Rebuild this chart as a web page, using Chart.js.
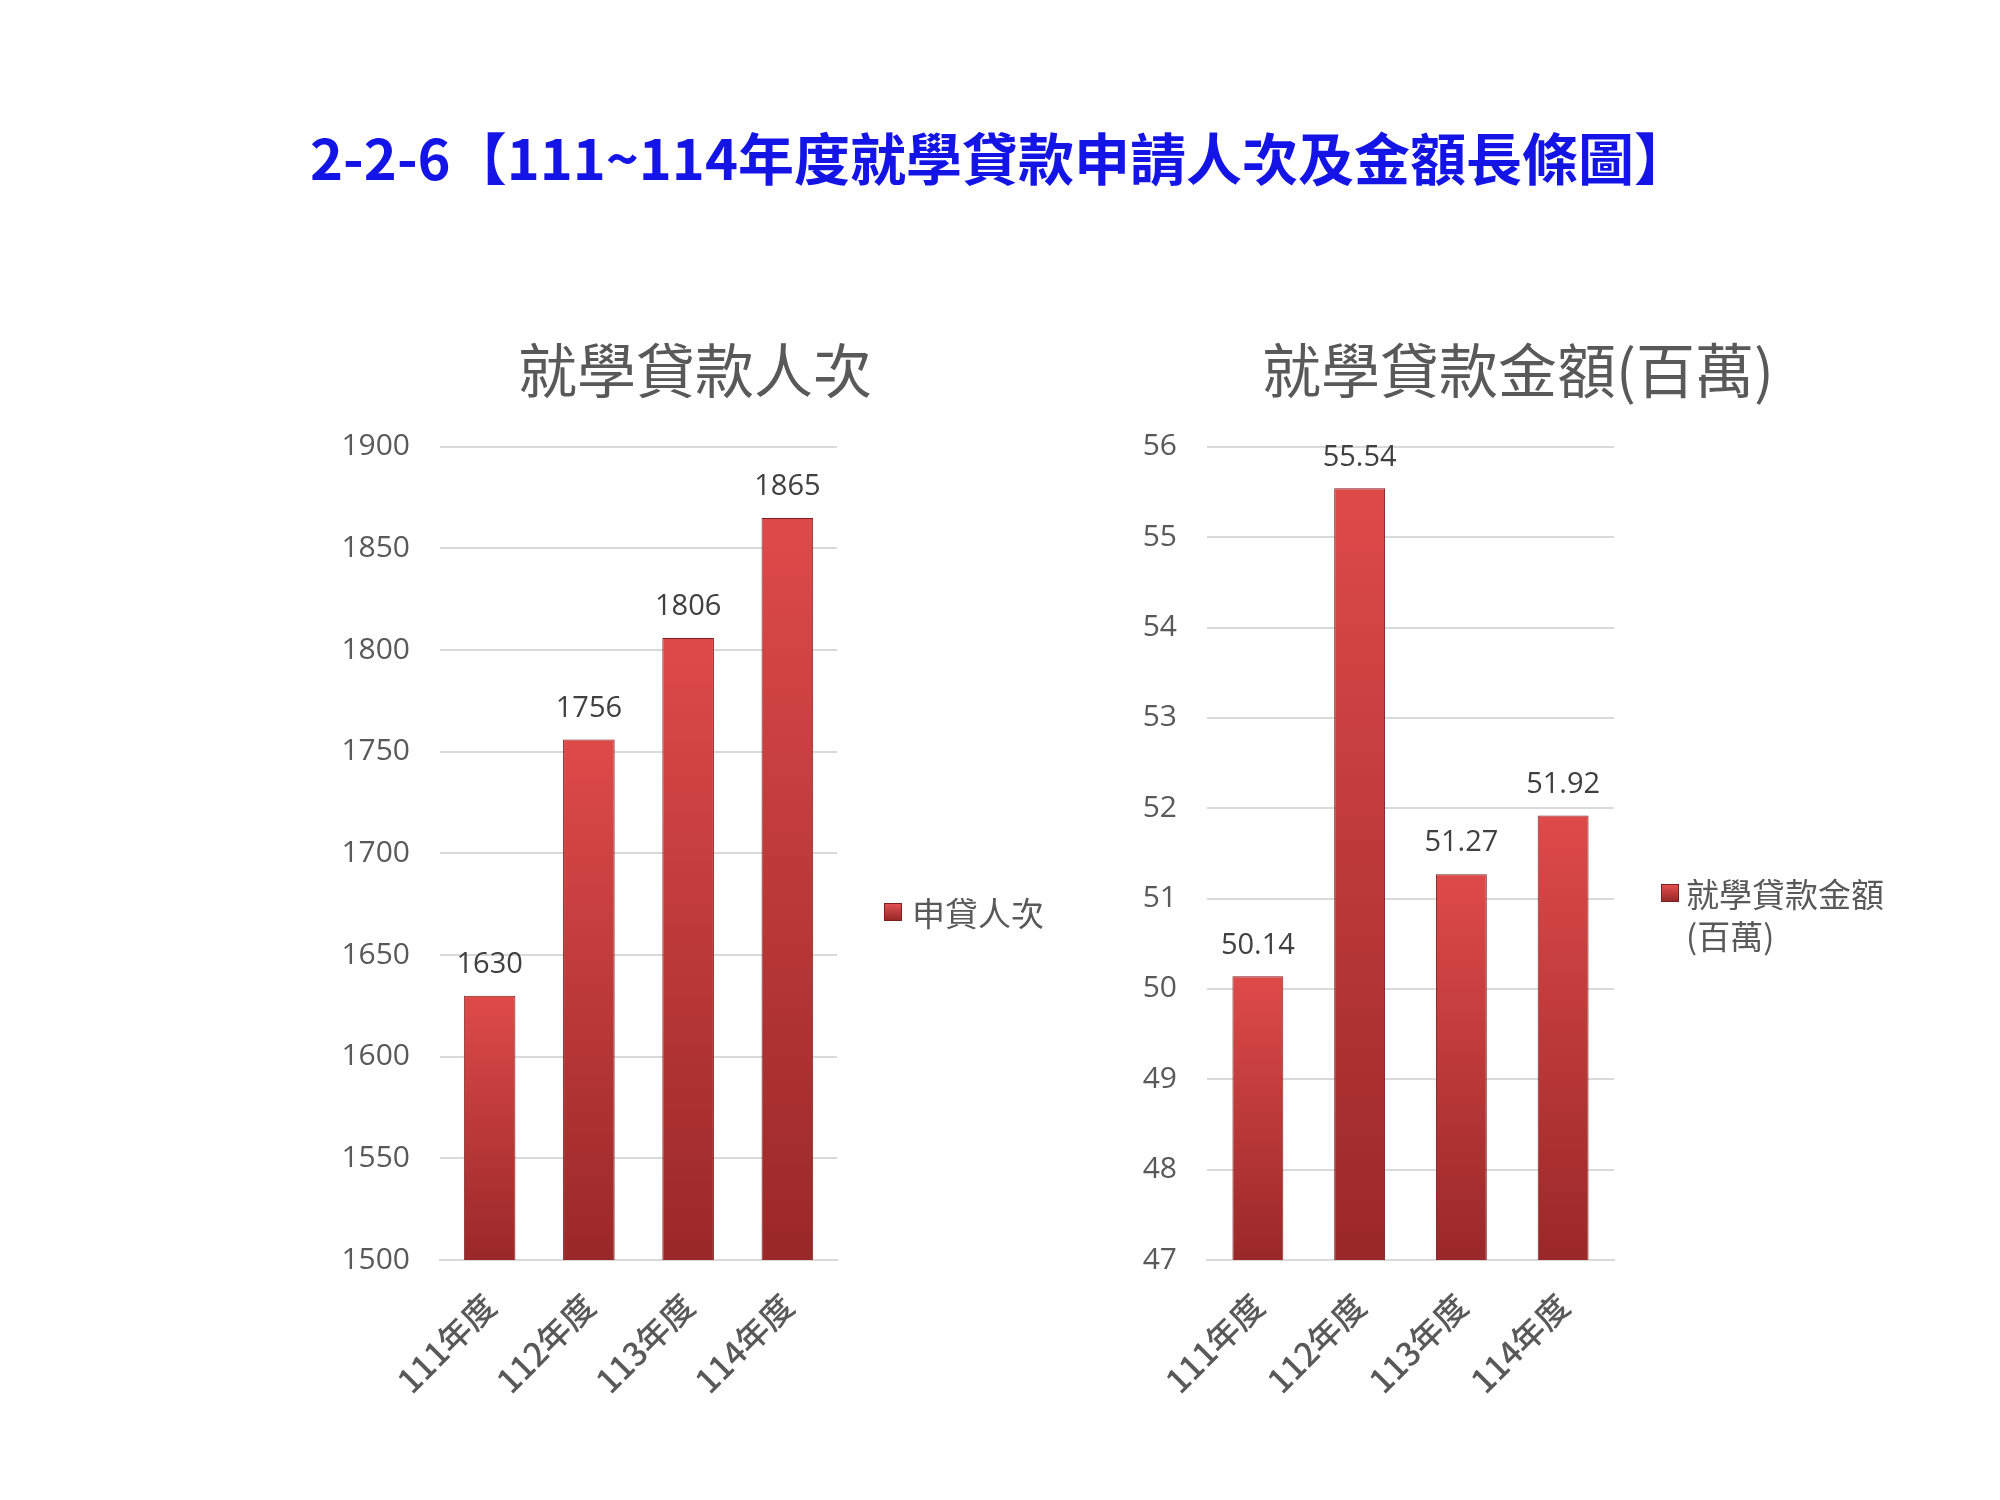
<!DOCTYPE html>
<html>
<head>
<meta charset="utf-8">
<script src="https://cdn.jsdelivr.net/npm/chart.js@4/dist/chart.umd.min.js"></script>
<style>
  html, body { margin: 0; padding: 0; background: #ffffff; }
  body { width: 2000px; height: 1500px; position: relative; overflow: hidden; }
  #mainTitle {
    position: absolute; left: 0; top: 118px; width: 2000px; text-align: center;
    font-family: "Noto Sans CJK TC", sans-serif; font-weight: 700; font-size: 56px;
    color: #1414e6; line-height: 76px; white-space: nowrap;
  }
  canvas { position: absolute; }
  .legend { position: absolute; font-family: "Noto Sans CJK TC", sans-serif; font-size: 33px;
    color: #595959; line-height: 42px; }
  .legend .sw { position: absolute; width: 18px; height: 18px;
    background: linear-gradient(#e05050, #9a2828); border: 1px solid #7d1f1f; box-sizing: border-box; }
  .legend .tx { position: absolute; }
</style>
</head>
<body>
<div id="mainTitle">2-2-6【111~114年度就學貸款申請人次及金額長條圖】</div>
<canvas id="c1" width="790" height="1110" style="left:300px; top:300px;"></canvas>
<canvas id="c2" width="902" height="1110" style="left:1067px; top:300px;"></canvas>
<div class="legend" id="lg1"><div class="sw" style="left:884px; top:903px;"></div><div class="tx" id="lg1t" style="left:912px; top:891px; white-space:nowrap;"></div></div>
<div class="legend" id="lg2"><div class="sw" style="left:1661px; top:884px;"></div><div class="tx" id="lg2t" style="left:1686px; top:872px; width:205px;"></div></div>
<script>
const categories = ['111年度', '112年度', '113年度', '114年度'];
const applicants = [1630, 1756, 1806, 1865];
const amounts = [50.14, 55.54, 51.27, 51.92];
const applicantsTitle = '就學貸款人次';
const amountsTitle = '就學貸款金額(百萬)';
const applicantsLabel = '申貸人次';
const amountsLabel = '就學貸款金額(百萬)';

document.getElementById('lg1t').textContent = applicantsLabel;
document.getElementById('lg2t').textContent = amountsLabel;

const grey = '#595959';
const sansDigits = '"Open Sans", "Liberation Sans", sans-serif';
const cjk = '"Noto Sans CJK TC", sans-serif';

function barGradient(ctx) {
  const chart = ctx.chart;
  const area = chart.chartArea;
  if (!area || ctx.raw === undefined) return '#c83a3a';
  const y = chart.scales.y.getPixelForValue(ctx.raw);
  const g = chart.ctx.createLinearGradient(0, y, 0, area.bottom);
  g.addColorStop(0, '#de4a4a');
  g.addColorStop(1, '#9a2828');
  return g;
}

const valueLabels = {
  id: 'valueLabels',
  afterDatasetsDraw(chart) {
    const c = chart.ctx;
    c.save();
    c.font = '29px ' + sansDigits;
    c.fillStyle = '#404040';
    c.textAlign = 'center';
    c.textBaseline = 'middle';
    chart.data.datasets.forEach((ds, di) => {
      chart.getDatasetMeta(di).data.forEach((el, i) => {
        c.fillText(String(ds.data[i]), el.x, el.y - 31);
      });
    });
    c.restore();
  }
};

function makeChart(id, title, label, data, min, max, step, barPct, rightSpace) {
  return new Chart(document.getElementById(id), {
    type: 'bar',
    data: {
      labels: categories,
      datasets: [{
        label: label,
        data: data,
        backgroundColor: barGradient,
        borderColor: '#7d1f1f',
        borderWidth: 1,
        barPercentage: barPct,
        categoryPercentage: 1.0
      }]
    },
    options: {
      responsive: false,
      animation: false,
      devicePixelRatio: 1,
      layout: { padding: 0 },
      plugins: {
        legend: { display: false },
        tooltip: { enabled: false },
        title: {
          display: true,
          text: title,
          color: grey,
          font: { family: cjk, size: 59, weight: 'normal' },
          padding: { top: 35, bottom: 41 }
        }
      },
      scales: {
        x: {
          grid: { display: false },
          border: { display: true, color: '#d9d9d9', width: 2 },
          ticks: {
            color: grey,
            font: { family: cjk, size: 33, weight: 500 },
            maxRotation: 45,
            minRotation: 45,
            padding: 18
          },
          afterFit(scale) { scale.height = 150; }
        },
        y: {
          min: min,
          max: max,
          grid: { color: '#d9d9d9', lineWidth: 2, drawTicks: false },
          border: { display: false },
          ticks: {
            stepSize: step,
            color: grey,
            font: { family: sansDigits, size: 30 },
            padding: 30,
            callback: (v) => String(v)
          },
          afterFit(scale) { scale.width = 140; }
        },
        legendSpace: {
          type: 'linear',
          position: 'right',
          display: true,
          grid: { display: false },
          border: { display: false },
          ticks: { display: false },
          afterFit(scale) { scale.width = rightSpace; }
        }
      }
    },
    plugins: [valueLabels]
  });
}

makeChart('c1', applicantsTitle, applicantsLabel, applicants, 1500, 1900, 50, 0.52, 253);
makeChart('c2', amountsTitle, amountsLabel, amounts, 47, 56, 1, 0.5, 355);
</script>
</body>
</html>
